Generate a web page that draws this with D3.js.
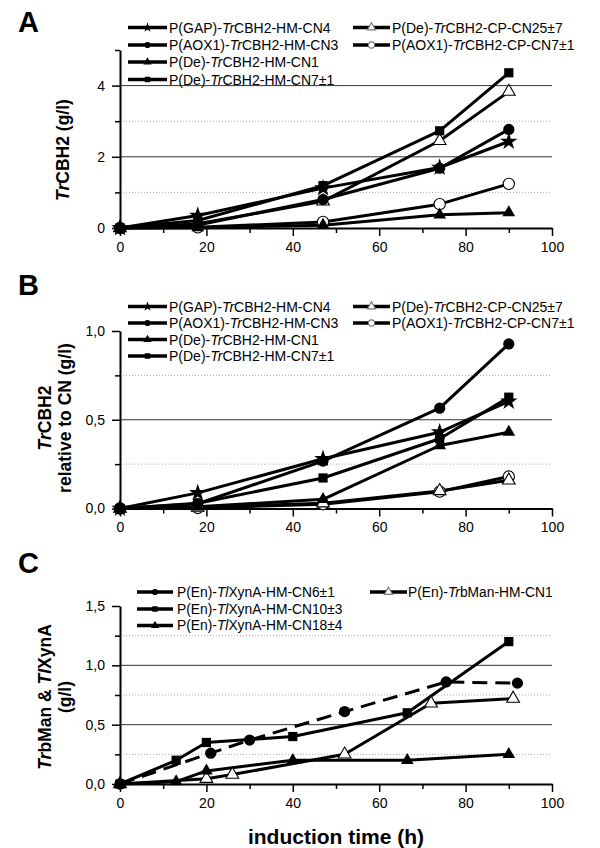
<!DOCTYPE html>
<html>
<head>
<meta charset="utf-8">
<script src="https://cdn.jsdelivr.net/npm/d3@7"></script>
<style>
  body { margin: 0; background: #fff; }
  svg { font-family: "Liberation Sans", Arial, sans-serif; }
</style>
</head>
<body>
<div id="chart"></div>
<script>
// induction time points (h) for panels A and B
const hoursAB = [0, 18, 47, 74, 90];

// panel A: TrCBH2 (g/l)
const aGapHm4 = [0, 0.35, 1.12, 1.70, 2.43];
const aAoxHm3 = [0, 0.08, 0.80, 1.68, 2.77];
const aDeHm1 = [0, 0.01, 0.08, 0.37, 0.43];
const aDeHm7 = [0, 0.21, 1.19, 2.73, 4.36];
const aDeCp25 = [0, 0.12, 0.75, 2.45, 3.83];
const aAoxCp7 = [0, 0.02, 0.17, 0.67, 1.24];

// panel B: TrCBH2 relative to CN (g/l)
const bGapHm4 = [0, 0.088, 0.28, 0.43, 0.603];
const bAoxHm3 = [0, 0.027, 0.267, 0.565, 0.927];
const bDeHm1 = [0, 0.01, 0.052, 0.355, 0.43];
const bDeHm7 = [0, 0.03, 0.172, 0.393, 0.627];
const bDeCp25 = [0, 0.005, 0.03, 0.099, 0.159];
const bAoxCp7 = [0, 0.003, 0.024, 0.095, 0.18];

// panel C: TrbMan & TlXynA (g/l), each strain sampled at its own times
const cXynCn6Hours = [0, 21, 30, 52, 75.5, 92];
const cXynCn6 = [0, 0.26, 0.37, 0.61, 0.86, 0.85];
const cXynCn10Hours = [0, 13, 20, 40, 66.5, 90];
const cXynCn10 = [0, 0.2, 0.35, 0.40, 0.60, 1.2];
const cXynCn18Hours = [0, 13, 20, 40, 66.5, 90];
const cXynCn18 = [0, 0.02, 0.11, 0.20, 0.20, 0.25];
const cManHours = [0, 20, 26, 52, 72, 91];
const cMan = [0, 0.045, 0.08, 0.25, 0.68, 0.72];

// legend labels, *...* marks the italic part
const labelsAB = [
  "P(GAP)-*Tr*CBH2-HM-CN4",
  "P(AOX1)-*Tr*CBH2-HM-CN3",
  "P(De)-*Tr*CBH2-HM-CN1",
  "P(De)-*Tr*CBH2-HM-CN7±1",
  "P(De)-*Tr*CBH2-CP-CN25±7",
  "P(AOX1)-*Tr*CBH2-CP-CN7±1"
];
const labelsC = [
  "P(En)-*Tl*XynA-HM-CN6±1",
  "P(En)-*Tl*XynA-HM-CN10±3",
  "P(En)-*Tl*XynA-HM-CN18±4",
  "P(En)-*Tr*bMan-HM-CN1"
];

const xTicks = [0, 20, 40, 60, 80, 100];
const xMinor = [10, 30, 50, 70, 90];

const width = 600, height = 848;
const left = 120, right = 552;

const svg = d3.select("#chart").append("svg")
  .attr("width", width)
  .attr("height", height);

const x = d3.scaleLinear().domain([0, 100]).range([left, right]);

const comma = d => d.toFixed(1).replace(".", ",");

function zip(xs, ys) {
  return xs.map((v, i) => ({ x: v, y: ys[i] }));
}

function richText(sel, str) {
  str.split("*").forEach((part, i) => {
    if (!part) return;
    sel.append("tspan")
      .attr("font-style", i % 2 ? "italic" : "normal")
      .text(part);
  });
}

function marker(g, kind, cx, cy, small) {
  let key = kind.replace("open", "").toLowerCase();
  let type = { star: d3.symbolStar, circle: d3.symbolCircle, triangle: d3.symbolTriangle, square: d3.symbolSquare }[key];
  let sizes = small
    ? { star: 30, circle: 30, triangle: 30, square: 30 }
    : { star: 95, circle: 100, triangle: 70, square: 85 };
  let open = kind.startsWith("open");
  g.append("path")
    .attr("d", d3.symbol().type(type).size(sizes[key])())
    .attr("transform", "translate(" + cx + "," + cy + ")")
    .attr("fill", open ? "#fff" : "#000")
    .attr("stroke", open ? (small ? "#777" : "#000") : "none")
    .attr("stroke-width", 1.1);
}

function drawPanel(p) {
  const y = d3.scaleLinear().domain(p.domain).range([p.bottom, p.top]);
  const g = svg.append("g");

  // grid lines
  g.selectAll(".solid").data(p.solid).enter().append("line")
    .attr("x1", left).attr("x2", right)
    .attr("y1", d => y(d)).attr("y2", d => y(d))
    .attr("stroke", "#333").attr("stroke-width", 1);
  g.selectAll(".dotted").data(p.dotted).enter().append("line")
    .attr("x1", left).attr("x2", right)
    .attr("y1", d => y(d)).attr("y2", d => y(d))
    .attr("stroke", "#aaa").attr("stroke-width", 1)
    .attr("stroke-dasharray", "1,2");

  // x axis
  const xa = g.append("g").attr("transform", "translate(0," + p.bottom + ")")
    .call(d3.axisBottom(x).tickValues(xTicks).tickSize(8).tickSizeOuter(0).tickPadding(6));
  g.append("g").attr("transform", "translate(0," + p.bottom + ")")
    .call(d3.axisBottom(x).tickValues(xMinor).tickSize(5).tickFormat(""))
    .select(".domain").remove();

  // y axis
  const ya = g.append("g").attr("transform", "translate(" + left + ",0)")
    .call(d3.axisLeft(y).tickValues(p.majors).tickSize(8).tickSizeOuter(0).tickPadding(7).tickFormat(p.fmt));
  g.append("g").attr("transform", "translate(" + left + ",0)")
    .call(d3.axisLeft(y).tickValues(p.minors).tickSize(5).tickFormat(""))
    .select(".domain").remove();

  g.selectAll(".tick line").attr("stroke-width", 1.5);
  [xa, ya].forEach(a => {
    a.select(".domain").attr("stroke-width", 2);
    a.selectAll("text").attr("font-size", 14).attr("font-family", "Liberation Sans, Arial, sans-serif").attr("fill", "#000");
  });

  // panel letter
  svg.append("text")
    .attr("x", 18).attr("y", p.letterY)
    .attr("font-size", 29).attr("font-weight", "bold")
    .text(p.letter);

  // y title
  p.title.forEach((t, i) => {
    const txt = svg.append("text")
      .attr("transform", "translate(" + p.titleX[i] + "," + p.titleY + ") rotate(-90)")
      .attr("text-anchor", "middle")
      .attr("dy", "0.36em")
      .attr("font-size", 17.5).attr("font-weight", "bold");
    richText(txt, t);
  });

  // lines, then markers (open ones underneath the filled ones)
  const line = d3.line().x(d => x(d.x)).y(d => y(d.y));
  p.series.forEach(s => {
    g.append("path")
      .datum(zip(s.hours, s.values))
      .attr("d", line)
      .attr("fill", "none")
      .attr("stroke", "#000")
      .attr("stroke-width", 3)
      .attr("stroke-linejoin", "round")
      .attr("stroke-dasharray", s.dashed ? "15,8" : null);
  });
  p.series.slice().reverse().forEach(s => {
    zip(s.hours, s.values).forEach(d => marker(g, s.symbol, x(d.x), y(d.y), false));
  });

  // legend
  p.series.forEach((s, i) => {
    const pos = p.legend[i];
    const lg = svg.append("g");
    lg.append("line")
      .attr("x1", pos[0]).attr("x2", pos[1])
      .attr("y1", pos[3]).attr("y2", pos[3])
      .attr("stroke", "#000").attr("stroke-width", 3.5);
    marker(lg, s.symbol, (pos[0] + pos[1]) / 2, pos[3], true);
    const txt = lg.append("text")
      .attr("x", pos[2]).attr("y", pos[3])
      .attr("dy", "0.36em")
      .attr("font-size", p.legendFont);
    richText(txt, s.label);
  });
}

const col1 = [128, 167, 169];
const col2 = [353, 390, 392];

drawPanel({
  letter: "A", letterY: 32,
  top: 50, bottom: 228, domain: [0, 5],
  majors: [0, 2, 4], minors: [1, 3, 5], solid: [2, 4], dotted: [1, 3],
  fmt: d3.format("d"),
  title: ["*Tr*CBH2 (g/l)"], titleX: [63], titleY: 150,
  legendFont: 14,
  legend: [
    [...col1, 27.5], [...col1, 45], [...col1, 62], [...col1, 79.5],
    [...col2, 27.5], [...col2, 45]
  ],
  series: [
    { label: labelsAB[0], symbol: "star", hours: hoursAB, values: aGapHm4 },
    { label: labelsAB[1], symbol: "circle", hours: hoursAB, values: aAoxHm3 },
    { label: labelsAB[2], symbol: "triangle", hours: hoursAB, values: aDeHm1 },
    { label: labelsAB[3], symbol: "square", hours: hoursAB, values: aDeHm7 },
    { label: labelsAB[4], symbol: "openTriangle", hours: hoursAB, values: aDeCp25 },
    { label: labelsAB[5], symbol: "openCircle", hours: hoursAB, values: aAoxCp7 }
  ]
});

drawPanel({
  letter: "B", letterY: 295,
  top: 331, bottom: 508.5, domain: [0, 1],
  majors: [0, 0.5, 1], minors: [0.25, 0.75], solid: [0.5], dotted: [0.25, 0.75],
  fmt: comma,
  title: ["*Tr*CBH2", "relative to CN (g/l)"], titleX: [45, 65], titleY: 418,
  legendFont: 14,
  legend: [
    [...col1, 306.5], [...col1, 323], [...col1, 339.5], [...col1, 356],
    [...col2, 306.5], [...col2, 323]
  ],
  series: [
    { label: labelsAB[0], symbol: "star", hours: hoursAB, values: bGapHm4 },
    { label: labelsAB[1], symbol: "circle", hours: hoursAB, values: bAoxHm3 },
    { label: labelsAB[2], symbol: "triangle", hours: hoursAB, values: bDeHm1 },
    { label: labelsAB[3], symbol: "square", hours: hoursAB, values: bDeHm7 },
    { label: labelsAB[4], symbol: "openTriangle", hours: hoursAB, values: bDeCp25 },
    { label: labelsAB[5], symbol: "openCircle", hours: hoursAB, values: bAoxCp7 }
  ]
});

drawPanel({
  letter: "C", letterY: 573,
  top: 606, bottom: 784, domain: [0, 1.5],
  majors: [0, 0.5, 1, 1.5], minors: [0.25, 0.75, 1.25], solid: [0.5, 1], dotted: [0.25, 0.75, 1.25],
  fmt: comma,
  title: ["*Tr*bMan & *Tl*XynA", "(g/l)"], titleX: [45, 65], titleY: 697,
  legendFont: 13.8,
  legend: [
    [137, 173, 177, 592], [137, 173, 177, 609], [137, 173, 177, 625.5],
    [370, 407, 408, 592]
  ],
  series: [
    { label: labelsC[0], symbol: "circle", hours: cXynCn6Hours, values: cXynCn6, dashed: true },
    { label: labelsC[1], symbol: "square", hours: cXynCn10Hours, values: cXynCn10 },
    { label: labelsC[2], symbol: "triangle", hours: cXynCn18Hours, values: cXynCn18 },
    { label: labelsC[3], symbol: "openTriangle", hours: cManHours, values: cMan }
  ]
});

svg.append("text")
  .attr("x", (left + right) / 2).attr("y", 844)
  .attr("text-anchor", "middle")
  .attr("font-size", 21).attr("font-weight", "bold")
  .text("induction time (h)");
</script>
</body>
</html>
